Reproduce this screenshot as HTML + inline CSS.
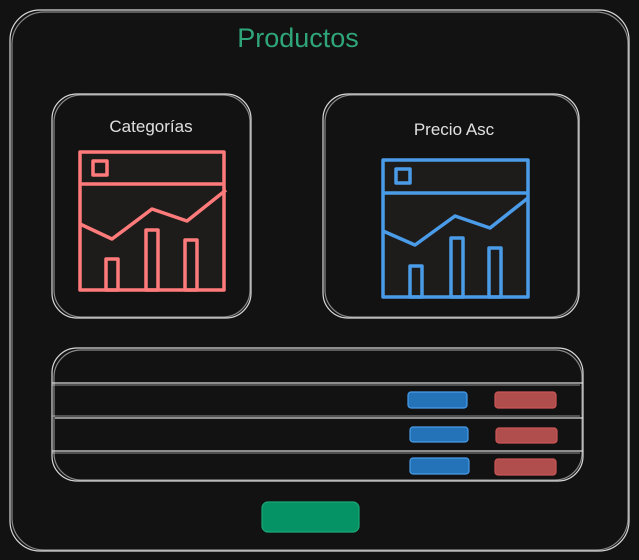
<!DOCTYPE html>
<html><head><meta charset="utf-8"><style>
html,body{margin:0;padding:0;background:#121212;}
svg{display:block}
</style></head><body>
<svg width="639" height="560" viewBox="0 0 639 560" xmlns="http://www.w3.org/2000/svg">
<rect width="639" height="560" fill="#121212"/>
<g fill="none" stroke="#d8d8d8" stroke-width="1.2">
<rect x="10" y="10" width="619" height="541" rx="30"/>
<rect x="12" y="12" width="616" height="538" rx="32" opacity="0.6"/>
<rect x="52" y="94" width="199" height="224" rx="25"/>
<rect x="54" y="95" width="196" height="222" rx="27" opacity="0.6"/>
<rect x="323" y="94" width="256" height="224" rx="25"/>
<rect x="325" y="95" width="253" height="222" rx="27" opacity="0.6"/>
<rect x="52" y="348" width="531" height="133" rx="25"/>
<rect x="54" y="350" width="528" height="130" rx="27" opacity="0.6"/>
<line x1="52" y1="383" x2="583" y2="383"/>
<line x1="52" y1="385" x2="580" y2="385" opacity="0.5"/>
<line x1="55" y1="418" x2="583" y2="418"/>
<line x1="52" y1="416" x2="580" y2="416" opacity="0.5"/>
<line x1="52" y1="451" x2="583" y2="451"/>
<line x1="52" y1="453" x2="580" y2="453" opacity="0.5"/>
</g>
<text x="298" y="47" text-anchor="middle" font-family="Liberation Sans, sans-serif" font-size="27" fill="#2fa57a">Productos</text>
<text x="151" y="132" text-anchor="middle" font-family="Liberation Sans, sans-serif" font-size="17" fill="#e0e0e0">Categorías</text>
<text x="454" y="135" text-anchor="middle" font-family="Liberation Sans, sans-serif" font-size="17" fill="#e0e0e0">Precio Asc</text>
<g fill="none" stroke="#ff7b7b" stroke-width="3.5" stroke-linejoin="round">
<rect x="80" y="152" width="144" height="138" fill="#1e1c1b"/>
<line x1="80" y1="184" x2="224" y2="184"/>
<rect x="93" y="161" width="14" height="14"/>
<polyline points="80,224 112,239 152,209 187,221 226,190"/>
<rect x="106" y="259" width="12" height="31"/>
<rect x="146" y="230" width="12" height="60"/>
<rect x="185" y="240" width="12" height="50"/>
</g>
<g fill="none" stroke="#4a9be8" stroke-width="3.5" stroke-linejoin="round">
<rect x="383" y="160" width="145" height="137" fill="#1e1c1b"/>
<line x1="383" y1="193" x2="528" y2="193"/>
<rect x="396" y="169" width="14" height="14"/>
<polyline points="383,231 415,245 455,216 490,228 528,198"/>
<rect x="410" y="266" width="12" height="31"/>
<rect x="451" y="238" width="12" height="59"/>
<rect x="489" y="248" width="12" height="49"/>
</g>
<g stroke-width="1.2">
<rect x="408" y="392" width="59" height="16" rx="3" fill="#2473b8" stroke="#4a9be8"/>
<rect x="410" y="427" width="58" height="15" rx="3" fill="#2473b8" stroke="#4a9be8"/>
<rect x="410" y="458" width="59" height="16" rx="3" fill="#2473b8" stroke="#4a9be8"/>
<rect x="495" y="392" width="61" height="16" rx="3" fill="#b04d4d" stroke="#c55"/>
<rect x="496" y="428" width="61" height="15" rx="3" fill="#b04d4d" stroke="#c55"/>
<rect x="495" y="459" width="61" height="16" rx="3" fill="#b04d4d" stroke="#c55"/>
<rect x="262" y="502" width="97" height="30" rx="6" fill="#059265" stroke="#1aa877"/>
</g>
</svg>
</body></html>
